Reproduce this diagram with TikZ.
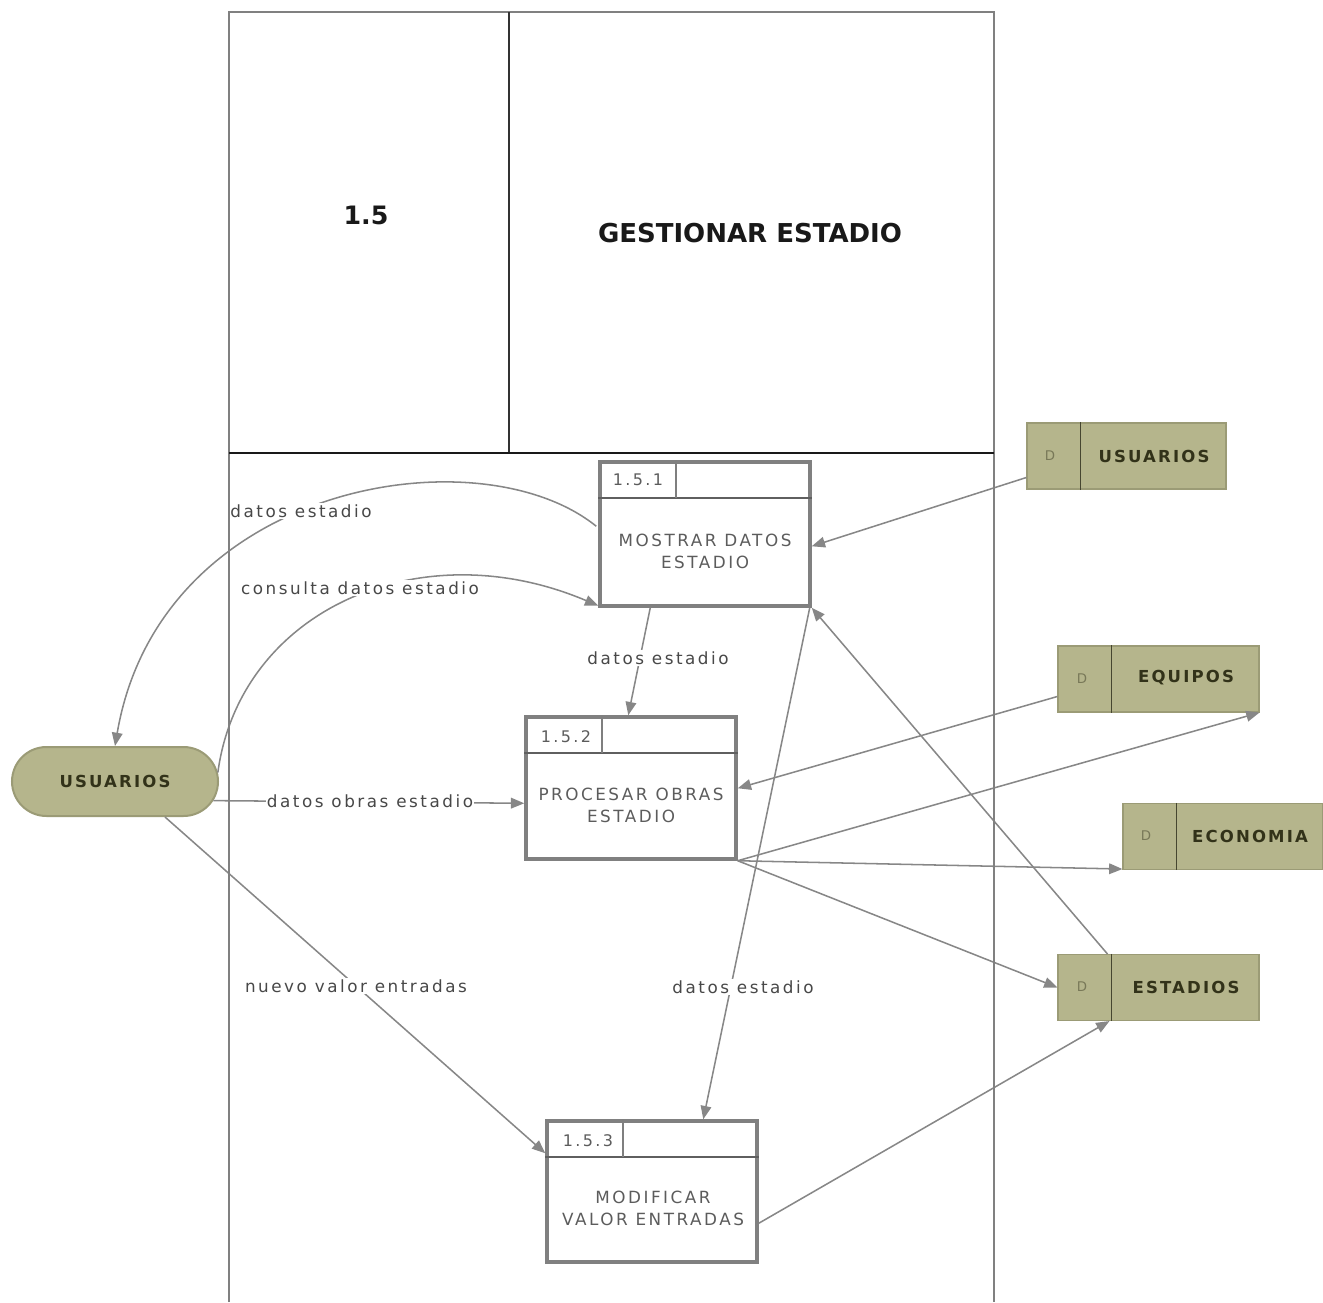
\documentclass[tikz,border=0pt]{standalone}
\usepackage{fontspec}
\setmainfont{DejaVu Sans}
\newfontfamily\spaced[LetterSpace=15]{DejaVu Sans}
\newfontfamily\spacedbold[LetterSpace=13]{DejaVu Sans Bold}
\usetikzlibrary{arrows.meta,calc,shapes.misc}

\definecolor{procgray}{RGB}{128,128,128}
\definecolor{headgray}{RGB}{95,95,95}
\definecolor{flowgray}{RGB}{135,135,135}
\definecolor{lblgray}{RGB}{72,72,72}
\definecolor{txtgray}{RGB}{92,92,92}
\definecolor{olivefill}{RGB}{181,181,140}
\definecolor{oliveline}{RGB}{155,155,118}
\definecolor{olivedark}{RGB}{70,70,48}
\definecolor{olivetext}{RGB}{50,50,25}
\definecolor{olived}{RGB}{120,120,88}

\begin{document}
\begin{tikzpicture}[x=0.75pt,y=-0.75pt,
  proc/.style={draw=procgray, line width=2.6pt, fill=white,
    minimum width=157.5pt, inner sep=0pt},
  proctext/.style={align=center, text=txtgray, inner sep=0pt,
    font=\spaced\fontsize{12.6}{16.5}\selectfont},
  procnum/.style={text=txtgray, inner sep=0pt, font=\spaced\fontsize{12}{14}\selectfont},
  store/.style={fill=olivefill, draw=oliveline, line width=0.8pt,
    minimum height=49.5pt, inner sep=0pt},
  storetext/.style={text=olivetext, inner sep=0pt,
    font=\spacedbold\fontsize{12.4}{14}\selectfont},
  storeD/.style={text=olived, inner sep=0pt, font=\fontsize{10}{11}\selectfont},
  term/.style={rounded rectangle, fill=olivefill, draw=oliveline, line width=1.5pt,
    minimum width=154.5pt, minimum height=51.75pt, inner sep=0pt},
  flow/.style={draw=flowgray, line width=1.15pt,
    -{Triangle[length=10pt,width=8pt,fill=flowgray]}},
  lbl/.style={fill=white, inner sep=0.8pt, text=lblgray,
    font=\spaced\fontsize{12.6}{14}\selectfont},
  frameline/.style={draw=procgray, line width=1.2pt},
]
\useasboundingbox (0,0) rectangle (1323,1302);

% ---- title block ----
\node[inner sep=0pt, text=black!90, font=\bfseries\fontsize{19}{22}\selectfont] (num) at (366,215) {1.5};
\node[inner sep=0pt, text=black!90, font=\bfseries\fontsize{19.5}{22}\selectfont] (title) at (750,233) {GESTIONAR ESTADIO};

% ---- processes ----
\node[proc, minimum height=108pt] (p1) at (705,534) {};
\node[proc, minimum height=106.5pt] (p2) at (631,788) {};
\node[proc, minimum height=105.75pt] (p3) at (652,1191.5) {};
\foreach \p in {p1,p2,p3}{
  \draw[headgray, line width=1.8pt] ($(\p.north west)+(0,38)$) -- ($(\p.north east)+(0,38)$);
  \draw[headgray!80, line width=1.8pt] ($(\p.north west)+(78,0)$) -- ($(\p.north west)+(78,38)$);
}
\node[procnum] (p1n) at (638,480) {1.5.1};
\node[procnum] (p2n) at (566,737) {1.5.2};
\node[procnum] (p3n) at (588,1141) {1.5.3};
\node[proctext] (p1t) at (705,551) {MOSTRAR DATOS\\ESTADIO};
\node[proctext] (p2t) at (631,805) {PROCESAR OBRAS\\ESTADIO};
\node[proctext] (p3t) at (653,1208) {MODIFICAR\\VALOR ENTRADAS};

% ---- data stores ----
\node[store, minimum width=149.25pt] (s1) at (1126.5,456) {};
\node[store, minimum width=150.75pt] (s2) at (1158.5,679) {};
\node[store, minimum width=150pt] (s3) at (1223,836.5) {};
\node[store, minimum width=150.75pt] (s4) at (1158.5,987.5) {};
\foreach \s in {s1,s2,s3,s4}{
  \draw[olivedark, line width=1.4pt] ($(\s.north west)+(54,0)$) -- ($(\s.south west)+(54,0)$);
}
\node[storeD] (s1d) at (1050,456) {D};
\node[storeD] (s2d) at (1082,679) {D};
\node[storeD] (s3d) at (1146,836) {D};
\node[storeD] (s4d) at (1082,987) {D};
\node[storetext] (s1t) at (1154,456) {USUARIOS};
\node[storetext] (s2t) at (1186,678) {EQUIPOS};
\node[storetext] (s3t) at (1250,836) {ECONOMIA};
\node[storetext] (s4t) at (1186,987) {ESTADIOS};

% ---- external entity ----
\node[term] (u) at (115,781.5) {};
\node[storetext] (ut) at (115,781) {USUARIOS};

% ---- data flows ----
\draw[flow] ($(p1.north west)+(-2,66)$) .. controls (480,432) and (160,482) .. (u.north);
\draw[flow] (u.5) .. controls (240,610) and (420,530) .. ($(p1.south west)+(0,-2)$);
\draw[flow] ($(p1.south west)+(52,0)$) -- ($(p2.north west)+(104,0)$);
\draw[flow] (u.-11) -- ($(p2.north west)+(0,88)$);
\draw[flow] ($(u.south)+(50,0)$) -- ($(p3.north west)+(0,34)$);
\draw[flow] ($(p1.south east)+(-2,0)$) -- ($(p3.north west)+(158,0)$);
\draw[flow] ($(s1.north west)+(0,55)$) -- ($(p1.north east)+(0,86)$);
\draw[flow] ($(s2.north west)+(0,51)$) -- ($(p2.north east)+(0,73)$);
\draw[flow] (p2.south east) -- (s2.south east);
\draw[flow] (p2.south east) -- ($(s3.south west)+(0,-1)$);
\draw[flow] (p2.south east) -- (s4.west);
\draw[flow] ($(s4.north west)+(50,0)$) -- (p1.south east);
\draw[flow] ($(p3.north east)+(0,104)$) -- ($(s4.south west)+(52,0)$);

% ---- flow labels ----
\node[lbl] (l1) at (301,511) {datos estadio};
\node[lbl] (l2) at (360,588) {consulta datos estadio};
\node[lbl] (l3) at (658,658) {datos estadio};
\node[lbl] (l4) at (370,801) {datos obras estadio};
\node[lbl] (l5) at (356,986) {nuevo valor entradas};
\node[lbl] (l6) at (743,987) {datos estadio};

% ---- frame of the decomposition ----
\draw[frameline] (229,1302) -- (229,12) -- (994,12) -- (994,1302);
\draw[draw=black!80, line width=0.9pt] (509,12) -- (509,453);
\draw[draw=black!90, line width=1.8pt] (229,453) -- (994,453);
\end{tikzpicture}
\end{document}
